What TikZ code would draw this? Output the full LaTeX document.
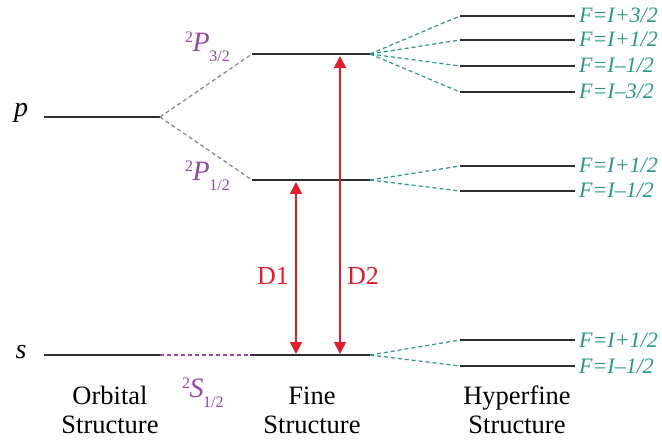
\documentclass[tikz,border=0pt]{standalone}
\usepackage{fontspec}
\setmainfont{Liberation Serif}
\usetikzlibrary{arrows.meta}
\definecolor{lvlcol}{RGB}{45,45,45}
\definecolor{termpurple}{RGB}{150,70,165}
\definecolor{hfteal}{RGB}{40,150,140}
\definecolor{dred}{RGB}{225,30,45}
\definecolor{dgrey}{RGB}{145,132,155}
\newcommand\termsym[2]{{\fontsize{16}{16}\selectfont\raisebox{9pt}{2}}\kern-0.5pt\textit{#1}\kern-0.5pt{\fontsize{16}{16}\selectfont\raisebox{-10pt}{#2}}}
\begin{document}
\begin{tikzpicture}[x=1pt,y=-1pt,
  lvl/.style={line width=1.6pt, draw=lvlcol},
  fsdash/.style={line width=1.3pt, draw=dgrey, dash pattern=on 4pt off 3pt},
  sdash/.style={line width=1.2pt, draw=termpurple, dash pattern=on 4pt off 3pt},
  hfdash/.style={line width=1.2pt, draw=hfteal, dash pattern=on 4pt off 3pt},
  flabel/.style={anchor=base west, inner sep=0pt, text=hfteal, font=\fontsize{22}{22}\selectfont\itshape},
  term/.style={anchor=base west, inner sep=0pt, text=termpurple, font=\fontsize{28}{28}\selectfont},
  orb/.style={anchor=base, inner sep=0pt, font=\fontsize{28}{28}\selectfont\itshape},
  dline/.style={line width=1.5pt, draw=dred, {Triangle[width=12pt,length=12pt]}-{Triangle[width=12pt,length=12pt]}},
  dlabel/.style={inner sep=0pt, text=dred, font=\fontsize{26}{26}\selectfont},
  captext/.style={align=center, inner sep=0pt, font=\fontsize{26.5}{29}\selectfont}
]
\useasboundingbox (0,0) rectangle (662,441);
% orbital levels
\coordinate (pL) at (44,117); \coordinate (pR) at (160,117);
\coordinate (sL) at (44,355); \coordinate (sR) at (160,355);
\draw[lvl] (pL) -- (pR);
\draw[lvl] (sL) -- (sR);
\node[orb] (plab) at (21,117) {p};
\node[orb] (slab) at (21,358) {s};
% fine levels
\coordinate (p3L) at (252,54); \coordinate (p3R) at (370,54);
\coordinate (p1L) at (252,180); \coordinate (p1R) at (370,180);
\coordinate (fsL) at (250,355); \coordinate (fsR) at (370,355);
\draw[lvl] (p3L) -- (p3R);
\draw[lvl] (p1L) -- (p1R);
\draw[lvl] (fsL) -- (fsR);
\draw[fsdash] (pR) -- (p3L);
\draw[fsdash] (pR) -- (p1L);
\draw[sdash] (sR) -- (fsL);
\node[term] (t3) at (185,52) {\termsym{P}{3/2}};
\node[term] (t1) at (185,181) {\termsym{P}{1/2}};
\node[term] (ts) at (182,397) {\termsym{S}{1/2}};
% hyperfine levels
\foreach \n/\y/\t in {h1/16/{F=I+3/2}, h2/40/{F=I+1/2}, h3/66/{F=I–1/2}, h4/92/{F=I–3/2},
                      h5/166/{F=I+1/2}, h6/191/{F=I–1/2}, h7/340/{F=I+1/2}, h8/366/{F=I–1/2}} {
  \coordinate (\n L) at (460,\y);
  \coordinate (\n R) at (575,\y);
  \draw[lvl] (\n L) -- (\n R);
  \node[flabel] (\n lab) at (579,\y+7) {\t};
}
\foreach \n in {h1,h2,h3,h4} \draw[hfdash] (p3R) -- (\n L);
\foreach \n in {h5,h6} \draw[hfdash] (p1R) -- (\n L);
\foreach \n in {h7,h8} \draw[hfdash] (fsR) -- (\n L);
% D lines
\coordinate (d1t) at (296,182); \coordinate (d1b) at (296,354);
\coordinate (d2t) at (340,56); \coordinate (d2b) at (340,354);
\draw[dline] (d1t) -- (d1b);
\draw[dline] (d2t) -- (d2b);
\node[dlabel] (D1) at (273,276) {D1};
\node[dlabel] (D2) at (363,276) {D2};
% captions
\node[captext] (c1) at (110,410) {Orbital\\Structure};
\node[captext] (c2) at (312,410) {Fine\\Structure};
\node[captext] (c3) at (517,410) {Hyperfine\\Structure};
\end{tikzpicture}
\end{document}
